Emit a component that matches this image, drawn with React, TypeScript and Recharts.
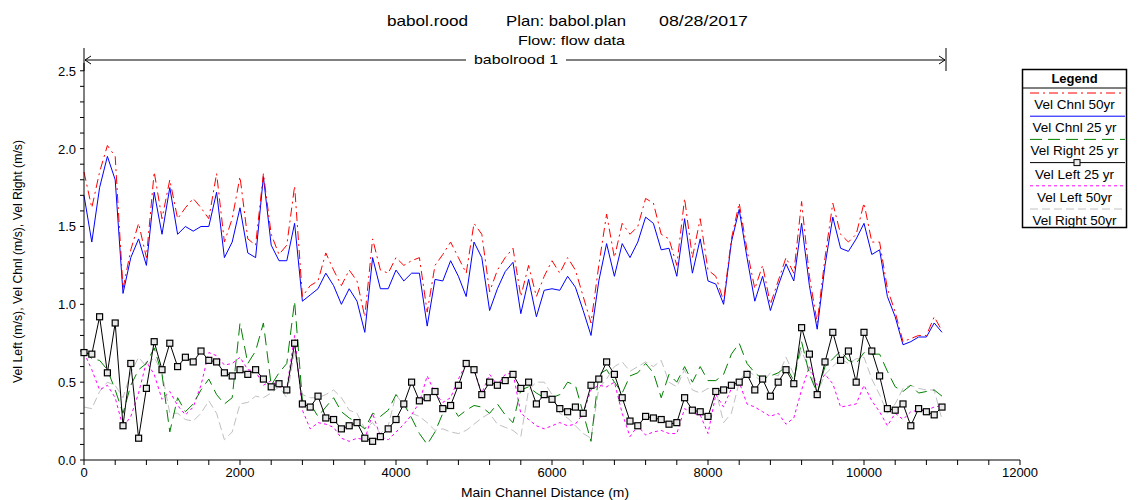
import React from 'react';
import { LineChart, Line, XAxis, YAxis } from 'recharts';

// distance along main channel (m)
const distance = [
    0, 100, 200, 300, 400, 500, 600, 700, 800, 900, 1000,
    1100, 1200, 1300, 1400, 1500, 1600, 1700, 1800, 1900, 2000,
    2100, 2200, 2300, 2400, 2500, 2600, 2700, 2800, 2900, 3000,
    3100, 3200, 3300, 3400, 3500, 3600, 3700, 3800, 3900, 4000,
    4100, 4200, 4300, 4400, 4500, 4600, 4700, 4800, 4900, 5000,
    5100, 5200, 5300, 5400, 5500, 5600, 5700, 5800, 5900, 6000,
    6100, 6200, 6300, 6400, 6500, 6600, 6700, 6800, 6900, 7000,
    7100, 7200, 7300, 7400, 7500, 7600, 7700, 7800, 7900, 8000,
    8100, 8200, 8300, 8400, 8500, 8600, 8700, 8800, 8900, 9000,
    9100, 9200, 9300, 9400, 9500, 9600, 9700, 9800, 9900, 10000,
    10100, 10200, 10300, 10400, 10500, 10600, 10700, 10800, 10900, 11000
];

const velChnl50 = [
    1.85, 1.62, 1.85, 2.02, 1.95, 1.10, 1.35, 1.52, 1.30, 1.85, 1.55,
    1.80, 1.55, 1.62, 1.68, 1.62, 1.55, 1.84, 1.40, 1.55, 1.82,
    1.42, 1.38, 1.84, 1.45, 1.32, 1.38, 1.76, 1.05, 1.12, 1.15,
    1.33, 1.22, 1.12, 1.22, 1.15, 0.92, 1.42, 1.22, 1.20, 1.30,
    1.25, 1.28, 1.30, 0.95, 1.25, 1.32, 1.40, 1.30, 1.20, 1.52,
    1.45, 1.08, 1.22, 1.30, 1.36, 1.05, 1.25, 1.05, 1.18, 1.28,
    1.20, 1.30, 1.22, 1.05, 0.88, 1.25, 1.58, 1.30, 1.52, 1.45,
    1.50, 1.68, 1.65, 1.45, 1.42, 1.25, 1.68, 1.30, 1.55, 1.22,
    1.18, 1.02, 1.42, 1.65, 1.35, 1.10, 1.25, 1.00, 1.15, 1.30,
    1.20, 1.66, 1.18, 0.88, 1.30, 1.65, 1.45, 1.40, 1.45, 1.65,
    1.40, 1.40, 1.10, 0.95, 0.76, 0.78, 0.80, 0.80, 0.92, 0.83
];

const velChnl25 = [
    1.70, 1.40, 1.75, 1.95, 1.80, 1.07, 1.30, 1.42, 1.25, 1.72, 1.45,
    1.75, 1.45, 1.50, 1.47, 1.50, 1.50, 1.72, 1.30, 1.40, 1.62,
    1.33, 1.30, 1.82, 1.38, 1.28, 1.28, 1.52, 1.02, 1.06, 1.10,
    1.20, 1.12, 1.00, 1.10, 1.02, 0.82, 1.30, 1.10, 1.10, 1.22,
    1.15, 1.20, 1.20, 0.86, 1.16, 1.15, 1.28, 1.18, 1.05, 1.40,
    1.30, 0.96, 1.10, 1.21, 1.27, 0.94, 1.16, 0.92, 1.09, 1.10,
    1.09, 1.18, 1.11, 0.96, 0.80, 1.15, 1.39, 1.18, 1.39, 1.30,
    1.40, 1.56, 1.52, 1.35, 1.36, 1.18, 1.55, 1.20, 1.42, 1.15,
    1.13, 1.00, 1.40, 1.61, 1.30, 1.02, 1.18, 0.96, 1.12, 1.26,
    1.15, 1.52, 1.12, 0.84, 1.25, 1.56, 1.36, 1.34, 1.42, 1.52,
    1.32, 1.35, 1.05, 0.92, 0.74, 0.76, 0.79, 0.79, 0.88, 0.82
];

const velRight25 = [
    0.71, 0.65, 0.64, 0.58, 0.45, 0.30, 0.48, 0.58, 0.62, 0.72, 0.55,
    0.18, 0.40, 0.31, 0.36, 0.45, 0.52, 0.42, 0.36, 0.40, 0.88,
    0.62, 0.70, 0.88, 0.48, 0.56, 0.62, 1.02, 0.38, 0.36, 0.28,
    0.34, 0.40, 0.31, 0.27, 0.24, 0.20, 0.30, 0.28, 0.32, 0.42,
    0.36, 0.27, 0.17, 0.10, 0.18, 0.30, 0.36, 0.28, 0.32, 0.35,
    0.34, 0.30, 0.36, 0.29, 0.24, 0.45, 0.47, 0.43, 0.40, 0.40,
    0.42, 0.50, 0.48, 0.30, 0.12, 0.55, 0.58, 0.50, 0.43, 0.54,
    0.56, 0.62, 0.56, 0.40, 0.55, 0.50, 0.60, 0.50, 0.60, 0.51,
    0.51, 0.55, 0.68, 0.75, 0.62, 0.56, 0.52, 0.54, 0.56, 0.60,
    0.51, 0.76, 0.55, 0.43, 0.60, 0.65, 0.70, 0.64, 0.62, 0.69,
    0.68, 0.68, 0.57, 0.47, 0.44, 0.48, 0.43, 0.44, 0.45, 0.41
];

const velLeft25 = [
    0.69, 0.68, 0.92, 0.56, 0.88, 0.22, 0.62, 0.14, 0.46, 0.76, 0.58,
    0.75, 0.60, 0.66, 0.63, 0.70, 0.64, 0.63, 0.56, 0.54, 0.58,
    0.55, 0.58, 0.52, 0.47, 0.49, 0.45, 0.75, 0.36, 0.34, 0.41,
    0.27, 0.26, 0.20, 0.22, 0.24, 0.14, 0.12, 0.15, 0.20, 0.26,
    0.36, 0.50, 0.38, 0.40, 0.44, 0.33, 0.35, 0.48, 0.62, 0.58,
    0.42, 0.50, 0.48, 0.51, 0.55, 0.46, 0.50, 0.36, 0.42, 0.39,
    0.33, 0.31, 0.34, 0.30, 0.48, 0.52, 0.63, 0.55, 0.40, 0.25,
    0.22, 0.28, 0.27, 0.26, 0.23, 0.24, 0.40, 0.32, 0.31, 0.28,
    0.44, 0.45, 0.48, 0.50, 0.55, 0.45, 0.52, 0.41, 0.50, 0.58,
    0.49, 0.85, 0.68, 0.42, 0.63, 0.82, 0.64, 0.70, 0.50, 0.82,
    0.70, 0.54, 0.33, 0.32, 0.36, 0.22, 0.33, 0.31, 0.29, 0.34
];

const velLeft50 = [
    0.69, 0.58, 0.45, 0.48, 0.40, 0.21, 0.28, 0.43, 0.63, 0.55, 0.39,
    0.44, 0.35, 0.29, 0.34, 0.48, 0.69, 0.67, 0.61, 0.62, 0.66,
    0.58, 0.57, 0.48, 0.51, 0.47, 0.46, 0.80, 0.32, 0.20, 0.24,
    0.23, 0.21, 0.14, 0.12, 0.14, 0.13, 0.30, 0.15, 0.13, 0.18,
    0.23, 0.29, 0.37, 0.54, 0.43, 0.37, 0.40, 0.52, 0.62, 0.58,
    0.43, 0.55, 0.48, 0.55, 0.56, 0.30, 0.26, 0.22, 0.20, 0.22,
    0.24, 0.22, 0.23, 0.30, 0.45, 0.48, 0.47, 0.50, 0.30, 0.15,
    0.22, 0.16, 0.18, 0.19, 0.17, 0.17, 0.33, 0.30, 0.29, 0.17,
    0.42, 0.34, 0.46, 0.50, 0.36, 0.34, 0.31, 0.28, 0.30, 0.23,
    0.27, 0.45, 0.60, 0.48, 0.55, 0.49, 0.34, 0.35, 0.36, 0.48,
    0.38, 0.31, 0.22, 0.30, 0.26, 0.31, 0.32, 0.32, 0.34, 0.35
];

const velRight50 = [
    0.34, 0.33, 0.44, 0.50, 0.48, 0.40, 0.56, 0.66, 0.60, 0.66, 0.56,
    0.30, 0.30, 0.26, 0.25, 0.30, 0.38, 0.30, 0.13, 0.18, 0.36,
    0.37, 0.41, 0.40, 0.43, 0.47, 0.40, 0.70, 0.42, 0.40, 0.40,
    0.42, 0.45, 0.40, 0.32, 0.30, 0.20, 0.24, 0.17, 0.22, 0.42,
    0.35, 0.30, 0.28, 0.24, 0.19, 0.20, 0.18, 0.17, 0.19, 0.23,
    0.27, 0.30, 0.23, 0.21, 0.19, 0.15, 0.45, 0.50, 0.50, 0.42,
    0.30, 0.27, 0.22, 0.17, 0.14, 0.46, 0.52, 0.60, 0.63, 0.57,
    0.60, 0.63, 0.60, 0.64, 0.50, 0.47, 0.58, 0.45, 0.43, 0.46,
    0.45, 0.24, 0.30, 0.50, 0.58, 0.54, 0.50, 0.56, 0.54, 0.66,
    0.55, 0.70, 0.58, 0.43, 0.55, 0.60, 0.65, 0.62, 0.65, 0.66,
    0.52, 0.42, 0.30, 0.36, 0.46, 0.48, 0.46, 0.45, 0.45, 0.26
];

const xTicks = [
    0, 400, 800, 1200, 1600, 2000, 2400, 2800, 3200, 3600, 4000,
    4400, 4800, 5200, 5600, 6000, 6400, 6800, 7200, 7600, 8000,
    8400, 8800, 9200, 9600, 10000, 10400, 10800, 11200, 11600, 12000
];
const yTicks = [
    0, 0.1, 0.2, 0.3, 0.4, 0.5, 0.6, 0.7, 0.8, 0.9, 1.0, 1.1, 1.2,
    1.3, 1.4, 1.5, 1.6, 1.7, 1.8, 1.9, 2.0, 2.1, 2.2, 2.3, 2.4, 2.5
];

const rows = distance.map((d, i) => ({
    dist: d,
    chnl50: velChnl50[i],
    chnl25: velChnl25[i],
    right25: velRight25[i],
    left25: velLeft25[i],
    left50: velLeft50[i],
    right50: velRight50[i]
}));

const FONT = '"Liberation Sans", Arial, sans-serif';

const XTick = (props: any) => {
    const { x, y, payload } = props;
    if (payload.value % 2000 !== 0) return null;
    return (
        <text x={x} y={y + 10} textAnchor="middle" fontSize={13} fontFamily={FONT} fill="#000">
            {payload.value}
        </text>
    );
};

const YTick = (props: any) => {
    const { x, y, payload } = props;
    const v = payload.value;
    if (Math.abs(v * 2 - Math.round(v * 2)) > 1e-6) return null;
    return (
        <text x={x - 2} y={y + 5} textAnchor="end" fontSize={13} fontFamily={FONT} fill="#000">
            {v.toFixed(1)}
        </text>
    );
};

// open square marker used by HEC-RAS for Vel Left 25 yr
const SquareDot = (props: any) => {
    const { cx, cy } = props;
    if (cx == null || cy == null) return null;
    return <rect x={cx - 3} y={cy - 3} width={6} height={6} fill="#e8e8e8" stroke="#000" strokeWidth={1.2} />;
};

const legendItems = [
    { label: 'Vel Chnl 50yr', color: '#ff0000', dash: '9 4 2 4', marker: false },
    { label: 'Vel Chnl 25 yr', color: '#0000ff', dash: undefined, marker: false },
    { label: 'Vel Right 25 yr', color: '#008000', dash: '12 6', marker: false },
    { label: 'Vel Left 25 yr', color: '#000000', dash: undefined, marker: true },
    { label: 'Vel Left 50yr', color: '#ff00ff', dash: '3 3', marker: false },
    { label: 'Vel Right 50yr', color: '#c0c0c0', dash: '8 4', marker: false }
];

export default function App() {
    return (
        <div style={{ position: 'relative', width: 1139, height: 500, background: '#fff' }}>
            <style>{'body{margin:0}'}</style>
            <LineChart
                width={1139}
                height={500}
                data={rows}
                margin={{ top: 63, right: 119, bottom: 10, left: 34 }}
            >
                <XAxis
                    type="number"
                    dataKey="dist"
                    domain={[0, 12000]}
                    ticks={xTicks}
                    tick={<XTick />}
                    tickSize={5}
                    height={30}
                    stroke="#000"
                    tickLine={{ stroke: '#000' }}
                    interval={0}
                />
                <YAxis
                    type="number"
                    domain={[0, 2.55]}
                    ticks={yTicks}
                    tick={<YTick />}
                    tickSize={4}
                    width={50}
                    stroke="#000"
                    tickLine={{ stroke: '#000' }}
                    interval={0}
                    allowDataOverflow
                />
                <Line type="linear" dataKey="right50" stroke="#c0c0c0" strokeDasharray="8 4" strokeWidth={1} dot={false} isAnimationActive={false} />
                <Line type="linear" dataKey="left50" stroke="#ff00ff" strokeDasharray="3 3" strokeWidth={1} dot={false} isAnimationActive={false} />
                <Line type="linear" dataKey="right25" stroke="#008000" strokeDasharray="12 6" strokeWidth={1} dot={false} isAnimationActive={false} />
                <Line type="linear" dataKey="left25" stroke="#000000" strokeWidth={1} dot={<SquareDot />} isAnimationActive={false} />
                <Line type="linear" dataKey="chnl25" stroke="#0000ff" strokeWidth={1} dot={false} isAnimationActive={false} />
                <Line type="linear" dataKey="chnl50" stroke="#ff0000" strokeDasharray="9 4 2 4" strokeWidth={1} dot={false} isAnimationActive={false} />
            </LineChart>

            <svg width={1139} height={500} style={{ position: 'absolute', left: 0, top: 0, pointerEvents: 'none' }} fontFamily={FONT}>
                {/* title */}
                <text x={387} y={26} fontSize={15} fill="#000" textLength={81} lengthAdjust="spacingAndGlyphs">babol.rood</text>
                <text x={506} y={26} fontSize={15} fill="#000" textLength={120} lengthAdjust="spacingAndGlyphs">Plan: babol.plan</text>
                <text x={659} y={26} fontSize={15} fill="#000" textLength={89} lengthAdjust="spacingAndGlyphs">08/28/2017</text>
                <text x={518} y={45} fontSize={13} fill="#000" textLength={107} lengthAdjust="spacingAndGlyphs">Flow: flow data</text>

                {/* reach annotation */}
                <line x1={84} y1={48} x2={84} y2={71} stroke="#000" />
                <line x1={946} y1={48} x2={946} y2={71} stroke="#000" />
                <line x1={85} y1={60} x2={466} y2={60} stroke="#000" />
                <line x1={566} y1={60} x2={945} y2={60} stroke="#000" />
                <polyline points="91,56 85,60 91,64" fill="none" stroke="#000" />
                <polyline points="939,56 945,60 939,64" fill="none" stroke="#000" />
                <text x={474} y={64} fontSize={13} fill="#000" textLength={84} lengthAdjust="spacingAndGlyphs">babolrood 1</text>

                {/* axis titles */}
                <text x={461} y={497} fontSize={13.5} fill="#000" textLength={168} lengthAdjust="spacingAndGlyphs">Main Channel Distance (m)</text>
                <text x={0} y={0} fontSize={12} fill="#000" textLength={243} lengthAdjust="spacingAndGlyphs" transform="translate(22,383) rotate(-90)">
                    Vel Left (m/s), Vel Chnl (m/s), Vel Right (m/s)
                </text>

                {/* legend */}
                <rect x={1022.5} y={69.5} width={104} height={158} fill="#fff" stroke="#000" strokeWidth={1.5} />
                <text x={1074.5} y={83} fontSize={13} fontWeight="bold" textAnchor="middle" fill="#000">Legend</text>
                <line x1={1022} y1={88} x2={1127} y2={88} stroke="#000" />
                {legendItems.map((item, i) => {
                    const ly = 93 + i * 23.2;
                    return (
                        <g key={item.label}>
                            <line x1={1030} y1={ly} x2={1125} y2={ly} stroke={item.color} strokeDasharray={item.dash} strokeWidth={1} />
                            {item.marker && (
                                <rect x={1074} y={ly - 3} width={6} height={6} fill="#eee" stroke="#000" />
                            )}
                            <text x={1074.5} y={ly + 16} fontSize={13.5} textAnchor="middle" fill="#000">{item.label}</text>
                        </g>
                    );
                })}
            </svg>
        </div>
    );
}
